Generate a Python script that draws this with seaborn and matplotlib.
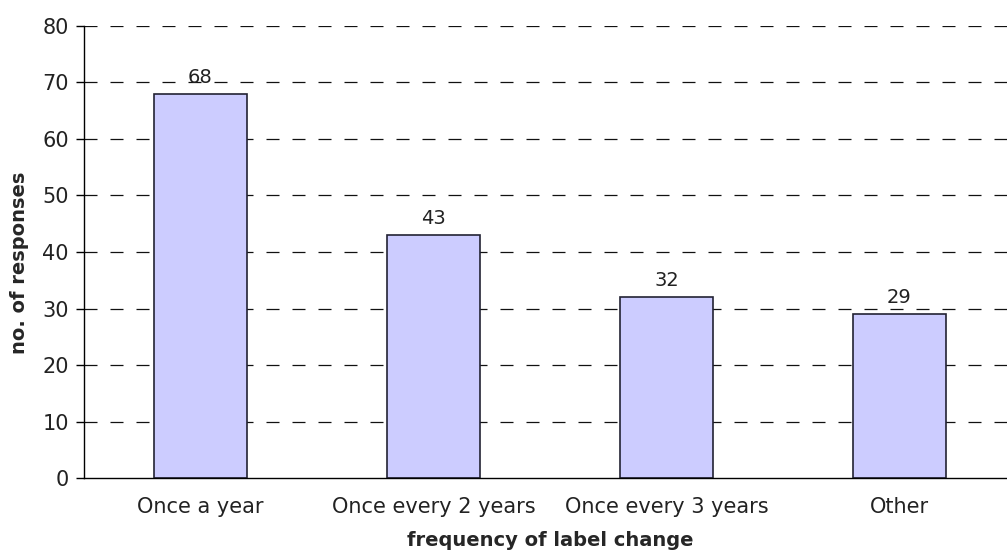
import matplotlib
matplotlib.use("Agg")
import matplotlib.pyplot as plt
import seaborn as sns

categories = ["Once a year", "Once every 2 years", "Once every 3 years", "Other"]
responses = [68, 43, 32, 29]
y_ticks = [0, 10, 20, 30, 40, 50, 60, 70, 80]

sns.set_theme(style="white")
plt.rcParams["font.family"] = ["DejaVu Sans"]

fig = plt.figure(figsize=(10.07, 5.53), dpi=100)
ax = fig.add_axes([0.0834, 0.1356, 0.9255, 0.8174])

sns.barplot(x=categories, y=responses, color="#CCCCFF", saturation=1,
            width=0.4, edgecolor="#222233", linewidth=1.2, ax=ax, zorder=3)

ax.set_ylim(0, 80)
ax.set_xlim(-0.5, 3.5)
ax.set_yticks(y_ticks)
ax.set_yticklabels([str(t) for t in y_ticks], fontsize=15, color="#222222")

# dashed horizontal grid behind the bars
for t in y_ticks[1:]:
    ax.axhline(t, color="#111111", linestyle=(0, (10.4, 10.4)), linewidth=0.9, zorder=1)

# category labels centred, tick marks at the category boundaries
ax.set_xticks(range(len(categories)))
ax.set_xticklabels(categories, fontsize=15, color="#222222")
ax.tick_params(axis="x", which="major", length=0, pad=14)
ax.set_xticks([-0.5, 0.5, 1.5, 2.5], minor=True)
ax.tick_params(axis="x", which="minor", length=6, width=1, color="black", direction="out")
ax.tick_params(axis="y", length=6, width=1, color="black", direction="out", pad=5, left=True)

for s in ["top", "right"]:
    ax.spines[s].set_visible(False)
for s in ["left", "bottom"]:
    ax.spines[s].set_color("black")
    ax.spines[s].set_linewidth(1.0)
    ax.spines[s].set_zorder(4)

for i, v in enumerate(responses):
    ax.annotate(str(v), xy=(i, v), xytext=(0, 8), textcoords="offset points",
                ha="center", va="baseline", fontsize=14, color="#222222", zorder=5)

ax.set_xlabel("frequency of label change", fontsize=14, fontweight="bold", labelpad=10)
ax.set_ylabel("no. of responses", fontsize=14, fontweight="bold")
ax.yaxis.set_label_coords(-0.059, 0.476)

fig.savefig("out.png", dpi=100, facecolor="white")
